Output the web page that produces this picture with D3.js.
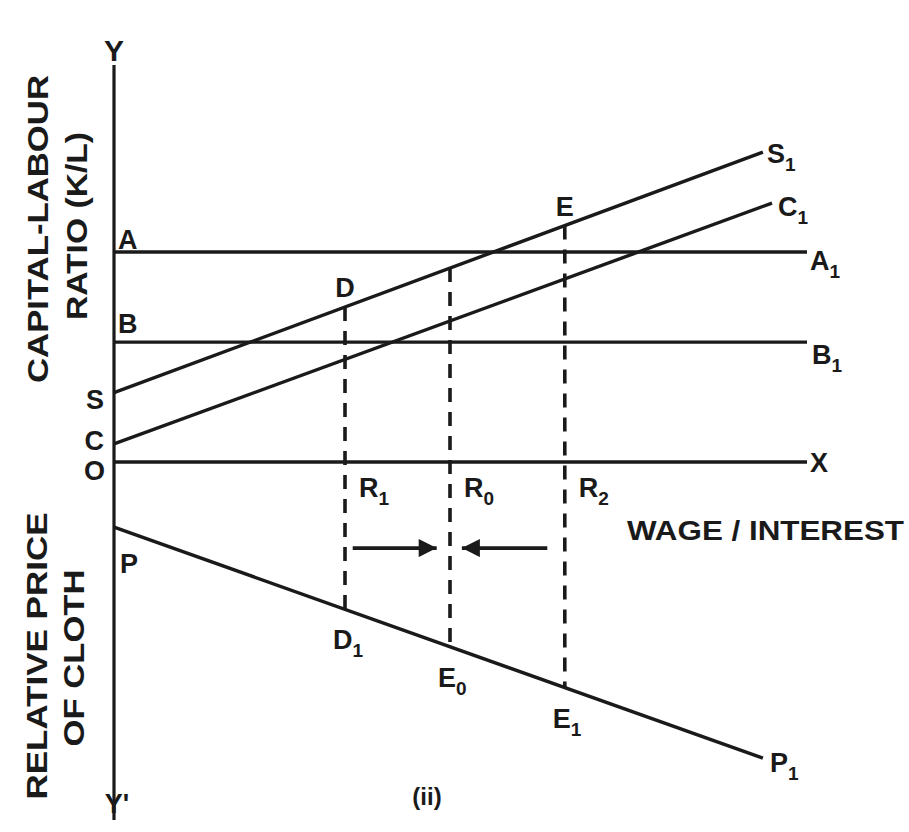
<!DOCTYPE html>
<html>
<head>
<meta charset="utf-8">
<script src="https://cdn.jsdelivr.net/npm/d3@7"></script>
<style>
  html, body { margin: 0; padding: 0; background: #fff; }
  svg { display: block; }
  text { font-family: "Liberation Sans", Arial, sans-serif; font-weight: bold; fill: #1a1a1a; }
</style>
</head>
<body>
<div id="chart"></div>
<script>
// x = wage / interest, y = capital-labour ratio (up) and relative price of cloth (down, negative)
const sLine = [[0, 3.3], [92.7, 14.76]];
const cLine = [[0, 0.86], [94, 12.33]];
const aLine = [[0, 10], [99, 10]];
const bLine = [[0, 5.71], [99, 5.71]];
const oLine = [[0, 0], [99, 0]];
const pLine = [[0, -3.1], [92.7, -14.1]];
const yAxisRange = [18.9, -17.05];

const guideX = [33, 48, 64.4];
const guideTop = ["D", "", "E"];
const guideMid = [["R", "1"], ["R", "0"], ["R", "2"]];
const guideBottom = [["D", "1"], ["E", "0"], ["E", "1"]];

const arrowLevel = -4.1;
const arrows = [[34.1, 46.1], [61.9, 49.7]];

const width = 909, height = 832;

const svg = d3.select('#chart').append('svg')
    .attr('width', width)
    .attr('height', height);

const x = d3.scaleLinear().domain([0, 100]).range([114, 814]);
const y = d3.scaleLinear().domain([0, 10]).range([462, 252]);

const line = d3.line().x(d => x(d[0])).y(d => y(d[1]));
const at = (ln, v) => ln[0][1] + (ln[1][1] - ln[0][1]) * (v - ln[0][0]) / (ln[1][0] - ln[0][0]);

svg.append('defs').append('marker')
    .attr('id', 'head')
    .attr('viewBox', '0 0 10 10')
    .attr('refX', 10).attr('refY', 5)
    .attr('markerWidth', 6.5).attr('markerHeight', 5)
    .attr('markerUnits', 'strokeWidth')
    .attr('orient', 'auto')
    .append('path')
    .attr('d', 'M0,0L10,5L0,10Z')
    .attr('fill', '#1a1a1a');

// Y axis
svg.append('line')
    .attr('x1', x(0)).attr('x2', x(0))
    .attr('y1', y(yAxisRange[0])).attr('y2', y(yAxisRange[1]))
    .attr('stroke', '#1a1a1a').attr('stroke-width', 3.2);

// solid curves
const solid = [aLine, bLine, oLine, sLine, cLine, pLine];
svg.selectAll('path.curve')
    .data(solid)
    .enter().append('path')
    .attr('class', 'curve')
    .attr('d', line)
    .attr('fill', 'none')
    .attr('stroke', '#1a1a1a')
    .attr('stroke-width', 3.4);

// dashed guides from the S curve down to the P curve
svg.selectAll('line.guide')
    .data(guideX)
    .enter().append('line')
    .attr('class', 'guide')
    .attr('x1', d => x(d)).attr('x2', d => x(d))
    .attr('y1', d => y(at(sLine, d)))
    .attr('y2', d => y(at(pLine, d)))
    .attr('stroke', '#1a1a1a')
    .attr('stroke-width', 3.6)
    .attr('stroke-dasharray', '14,10');

// convergence arrows
svg.selectAll('line.arrow')
    .data(arrows)
    .enter().append('line')
    .attr('class', 'arrow')
    .attr('x1', d => x(d[0])).attr('x2', d => x(d[1]))
    .attr('y1', y(arrowLevel)).attr('y2', y(arrowLevel))
    .attr('stroke', '#1a1a1a')
    .attr('stroke-width', 3.6)
    .attr('marker-end', 'url(#head)');

// label helper: main letter plus optional subscript
function label(txt, sub, px, py, anchor, size) {
    const t = svg.append('text')
        .attr('x', px).attr('y', py)
        .attr('text-anchor', anchor || 'start')
        .style('font-size', (size || 27) + 'px')
        .text(txt);
    if (sub) {
        t.append('tspan')
            .attr('dy', 8)
            .style('font-size', '19px')
            .text(sub);
    }
    return t;
}

// curve end labels
const end = ln => [x(ln[1][0]), y(ln[1][1])];
label('S', '1', end(sLine)[0] + 4, end(sLine)[1] + 11);
label('C', '1', end(cLine)[0] + 6, end(cLine)[1] + 13);
label('A', '1', end(aLine)[0] + 3, end(aLine)[1] + 18);
label('B', '1', end(bLine)[0] + 5, end(bLine)[1] + 22);
label('X', '', end(oLine)[0] + 3, end(oLine)[1] + 10);
label('P', '1', end(pLine)[0] + 7, end(pLine)[1] + 14);

// intercept labels on the Y axis
label('A', '', x(0) + 4, y(aLine[0][1]) - 3);
label('B', '', x(0) + 4, y(bLine[0][1]) - 9);
label('S', '', x(0) - 10, y(sLine[0][1]) + 16, 'end');
label('C', '', x(0) - 10, y(cLine[0][1]) + 6, 'end');
label('O', '', x(0) - 9, y(0) + 18, 'end');
label('P', '', x(0) + 6, y(pLine[0][1]) + 46);
label('Y', '', x(0), y(yAxisRange[0]) - 4, 'middle', 30);
label("Y'", '', x(0) + 3, y(yAxisRange[1]) - 7, 'middle');

// guide labels
guideX.forEach((g, i) => {
    const gx = x(g);
    if (guideTop[i]) label(guideTop[i], '', gx, y(at(sLine, g)) - 10, 'middle');
    label(guideMid[i][0], guideMid[i][1], gx + 14, y(0) + 35);
    label(guideBottom[i][0], guideBottom[i][1], gx - 12, y(at(pLine, g)) + 40);
});

// axis titles
svg.append('text')
    .attr('x', 627).attr('y', 540)
    .attr('textLength', 277).attr('lengthAdjust', 'spacingAndGlyphs')
    .style('font-size', '28px')
    .text('WAGE / INTEREST');

const vTitles = [
    ['CAPITAL-LABOUR', 48, 229, 308],
    ['RATIO (K/L)', 87, 226, 188],
    ['RELATIVE PRICE', 47, 656, 287],
    ['OF CLOTH', 84, 658, 177]
];
vTitles.forEach(t => {
    svg.append('text')
        .attr('transform', `translate(${t[1]},${t[2]}) rotate(-90)`)
        .attr('text-anchor', 'middle')
        .attr('textLength', t[3]).attr('lengthAdjust', 'spacingAndGlyphs')
        .style('font-size', '29px')
        .text(t[0]);
});

label('(ii)', '', 427, 805, 'middle', 24);
</script>
</body>
</html>
